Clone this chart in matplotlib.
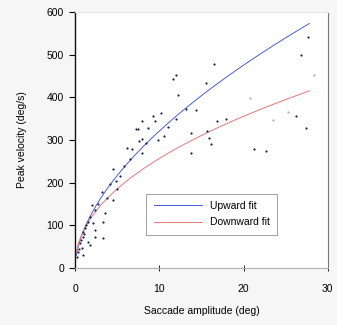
import numpy as np
import matplotlib.pyplot as plt

plt.rcParams['font.family'] = ['Liberation Sans', 'DejaVu Sans']

# saccade amplitude (deg) and peak velocity (deg/s) of the measured saccades
amp = [12.0, 11.6, 12.2, 13.2, 14.4, 9.2, 9.5, 10.2, 8.0, 7.2, 7.5, 8.6, 12.0,
       7.6, 8.0, 8.4, 6.2, 6.8, 8.0, 4.5, 10.6, 13.8, 13.8,
       16.5, 15.5, 16.9, 17.9, 15.9, 16.1, 21.2, 22.6, 26.2, 27.4, 27.6, 26.8, 15.6,
       5.3, 4.9, 4.1, 3.2, 3.8, 2.0, 2.4, 1.8, 1.5, 2.1, 3.3, 1.2, 2.4, 3.3,
       0.9, 1.5, 0.6, 0.8, 0.4, 0.9, 0.2, 1.8, 2.4, 3.5, 4.5, 5.8, 6.5, 1.1, 0.7,
       1.3, 2.7, 0.5, 1.0, 5.0, 9.8, 11.0]
vel = [453, 444, 405, 372, 370, 356, 344, 363, 344, 326, 326, 328, 349,
       298, 302, 293, 281, 279, 270, 233, 309, 316, 270,
       479, 433, 344, 349, 305, 291, 279, 274, 356, 328, 542, 500, 321,
       216, 205, 198, 177, 165, 147, 135, 119, 107, 105, 107, 93, 88, 70,
       72, 60, 58, 47, 37, 30, 26, 53, 72, 128, 160, 240, 255, 80, 65,
       100, 150, 45, 85, 185, 300, 330]
# fainter points
amp_light = [20.8, 25.3, 23.5, 28.4]
vel_light = [398, 365, 347, 453]

# power-law fits  v = a * A^b
up_a, up_b = 87.0, 0.567
down_a, down_b = 87.0, 0.47

fig = plt.figure(figsize=(3.37, 3.25), dpi=100, facecolor='#f6f6f6')
ax = fig.add_axes([0.2226, 0.1754, 0.7504, 0.7876])
ax.set_facecolor('white')

xs = np.linspace(0.15, 27.8, 300)
ax.plot(xs, up_a * xs ** up_b, color='#4a5ed6', lw=0.7, label='Upward fit')
ax.plot(xs, down_a * xs ** down_b, color='#e87878', lw=0.7, label='Downward fit')
ax.scatter(amp, vel, s=2.5, color='#1a1f4a', zorder=3, linewidths=0)
ax.scatter(amp_light, vel_light, s=3, color='#b8b8b8', zorder=3, linewidths=0)

ax.set_xlim(0, 30)
ax.set_ylim(0, 600)
ax.set_xticks([0, 10, 20, 30])
ax.set_yticks([0, 100, 200, 300, 400, 500, 600])
ax.tick_params(axis='y', direction='out', length=4, width=0.8, labelsize=7.5, pad=4)
ax.tick_params(axis='x', direction='inout', length=5, width=0.6, labelsize=7.5, pad=9)
ax.set_xlabel('Saccade amplitude (deg)', fontsize=7.5, labelpad=9)
ax.set_ylabel('Peak velocity (deg/s)', fontsize=7.5, labelpad=14)

ax.spines['left'].set_color('#111111')
ax.spines['left'].set_linewidth(1.0)
ax.spines['bottom'].set_color('#b0b0b0')
ax.spines['right'].set_color('#777777')
ax.spines['top'].set_color('#e6e6e6')

leg = ax.legend(loc='lower left', bbox_to_anchor=(0.262, 0.11), fontsize=7.5,
                handlelength=4.6, frameon=True, fancybox=False, borderpad=0.7,
                labelspacing=0.6, handletextpad=0.8)
leg.get_frame().set_edgecolor('#888888')
leg.get_frame().set_linewidth(0.7)

fig.savefig('out.png', dpi=100, facecolor=fig.get_facecolor())
